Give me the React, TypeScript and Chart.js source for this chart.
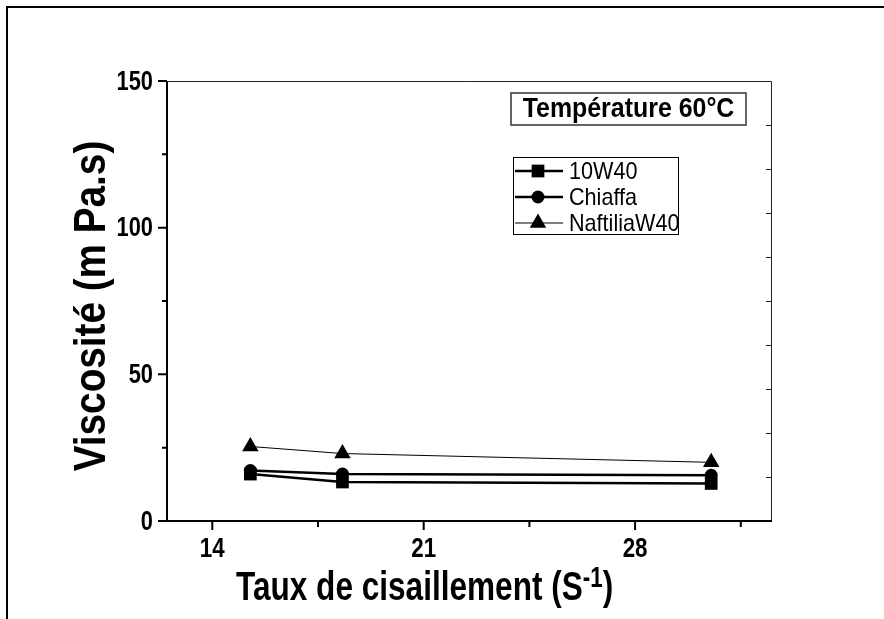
import React, { useEffect, useRef } from "react";
import { Chart, registerables } from "chart.js";

Chart.register(...registerables);

// ---- data ----
const shearRates = [15.26, 18.31, 30.52];
const visc10W40 = [16.0, 13.3, 12.8];
const viscChiaffa = [17.2, 16.0, 15.6];
const viscNaftilia = [25.4, 23.0, 20.0];
const seriesNames = ["10W40", "Chiaffa", "NaftiliaW40"];

const xMajorTicks = [14, 21, 28];
const xMinorTicks = [17.5, 24.5, 31.5];
const yMajorTicks = [0, 50, 100, 150];
const yMinorTicks = [25, 75, 125];
const yRightTicks = [15, 30, 45, 60, 75, 90, 105, 120, 135];

const xTitleMain = "Taux de cisaillement (S";
const xTitleSup = "-1";
const xTitleEnd = ")";
const yTitle = "Viscosité (m Pa.s)";
const boxTitle = "Température 60°C";

const FONT = '"Liberation Sans", Arial, "DejaVu Sans", sans-serif';

function setFont(ctx: CanvasRenderingContext2D, size: number, bold: boolean) {
  ctx.font = `${bold ? "bold " : ""}${size}px ${FONT}`;
}

function drawText(
  ctx: CanvasRenderingContext2D,
  s: string,
  x: number,
  y: number,
  size: number,
  bold: boolean,
  sx: number,
  align: CanvasTextAlign,
  baseline: CanvasTextBaseline
) {
  ctx.save();
  ctx.translate(x, y);
  ctx.scale(sx, 1);
  setFont(ctx, size, bold);
  ctx.textAlign = align;
  ctx.textBaseline = baseline;
  ctx.fillStyle = "#000";
  ctx.fillText(s, 0, 0);
  ctx.restore();
}

function textWidth(ctx: CanvasRenderingContext2D, s: string, size: number, bold: boolean, sx: number) {
  ctx.save();
  setFont(ctx, size, bold);
  const w = ctx.measureText(s).width * sx;
  ctx.restore();
  return w;
}

function drawMarker(ctx: CanvasRenderingContext2D, style: string, r: number, x: number, y: number) {
  ctx.save();
  ctx.fillStyle = "#000";
  ctx.beginPath();
  if (style === "rect") {
    const s = Math.SQRT1_2 * r;
    ctx.rect(x - s, y - s, 2 * s, 2 * s);
  } else if (style === "circle") {
    ctx.arc(x, y, r, 0, Math.PI * 2);
  } else {
    let rad = 0;
    const third = (2 * Math.PI) / 3;
    ctx.moveTo(x + Math.sin(rad) * r, y - Math.cos(rad) * r);
    rad += third;
    ctx.lineTo(x + Math.sin(rad) * r, y - Math.cos(rad) * r);
    rad += third;
    ctx.lineTo(x + Math.sin(rad) * r, y - Math.cos(rad) * r);
    ctx.closePath();
  }
  ctx.fill();
  ctx.restore();
}

const decorPlugin = {
  id: "decor",
  beforeDraw(chart: any) {
    const ctx: CanvasRenderingContext2D = chart.ctx;
    ctx.save();
    ctx.fillStyle = "#fff";
    ctx.fillRect(0, 0, chart.width, chart.height);
    // outer frame (left and top edges)
    ctx.strokeStyle = "#000";
    ctx.lineWidth = 2;
    ctx.beginPath();
    ctx.moveTo(7, chart.height + 5);
    ctx.lineTo(7, 7);
    ctx.lineTo(chart.width + 5, 7);
    ctx.stroke();
    ctx.restore();
  },
  afterDraw(chart: any) {
    const ctx: CanvasRenderingContext2D = chart.ctx;
    const xs = chart.scales.x;
    const ys = chart.scales.y;
    const { left, right, top, bottom } = chart.chartArea;
    ctx.save();
    ctx.lineCap = "butt";

    // top & right frame lines (thin)
    ctx.strokeStyle = "#222";
    ctx.lineWidth = 1;
    ctx.beginPath();
    ctx.moveTo(left, top + 0.5);
    ctx.lineTo(right + 0.5, top + 0.5);
    ctx.lineTo(right + 0.5, bottom);
    ctx.stroke();

    // right axis inward ticks
    ctx.beginPath();
    for (const v of yRightTicks) {
      const py = Math.round(ys.getPixelForValue(v)) + 0.5;
      ctx.moveTo(right + 0.5, py);
      ctx.lineTo(right - 5, py);
    }
    ctx.stroke();

    // left & bottom axes (thicker)
    ctx.strokeStyle = "#000";
    ctx.lineWidth = 2;
    ctx.beginPath();
    ctx.moveTo(left, top);
    ctx.lineTo(left, bottom);
    ctx.lineTo(right + 1, bottom);
    ctx.stroke();

    // y ticks
    ctx.beginPath();
    for (const v of yMajorTicks) {
      const py = ys.getPixelForValue(v);
      ctx.moveTo(left, py);
      ctx.lineTo(left - 9, py);
    }
    for (const v of yMinorTicks) {
      const py = ys.getPixelForValue(v);
      ctx.moveTo(left, py);
      ctx.lineTo(left - 5, py);
    }
    // x ticks
    for (const v of xMajorTicks) {
      const px = xs.getPixelForValue(v);
      ctx.moveTo(px, bottom);
      ctx.lineTo(px, bottom + 9);
    }
    for (const v of xMinorTicks) {
      const px = xs.getPixelForValue(v);
      ctx.moveTo(px, bottom);
      ctx.lineTo(px, bottom + 6);
    }
    ctx.stroke();

    // tick labels
    for (const v of yMajorTicks) {
      drawText(ctx, String(v), left - 14, ys.getPixelForValue(v) + 1, 28, true, 0.78, "right", "middle");
    }
    for (const v of xMajorTicks) {
      drawText(ctx, String(v), xs.getPixelForValue(v), bottom + 36, 28, true, 0.8, "center", "alphabetic");
    }

    // x axis title
    const xMainSize = 41;
    const xSx = 0.77;
    const wMain = textWidth(ctx, xTitleMain, xMainSize, true, xSx);
    const wSup = textWidth(ctx, xTitleSup, 29, true, xSx);
    let tx = 236;
    const tBase = 600;
    drawText(ctx, xTitleMain, tx, tBase, xMainSize, true, xSx, "left", "alphabetic");
    tx += wMain;
    drawText(ctx, xTitleSup, tx, tBase - 13, 29, true, xSx, "left", "alphabetic");
    tx += wSup;
    drawText(ctx, xTitleEnd, tx, tBase, xMainSize, true, xSx, "left", "alphabetic");

    // y axis title (rotated)
    ctx.save();
    ctx.translate(105, 306);
    ctx.rotate(-Math.PI / 2);
    drawText(ctx, yTitle, 0, 0, 45, true, 0.86, "center", "alphabetic");
    ctx.restore();

    // title box
    ctx.strokeStyle = "#333";
    ctx.lineWidth = 1.5;
    ctx.strokeRect(511, 93, 235, 32);
    drawText(ctx, boxTitle, 628.5, 117, 28, true, 0.89, "center", "alphabetic");

    // legend box
    ctx.strokeStyle = "#000";
    ctx.lineWidth = 1;
    ctx.strokeRect(513.5, 157.5, 165, 77);
    const rowsY = [171, 197, 223];
    chart.data.datasets.forEach((ds: any, i: number) => {
      const y = rowsY[i];
      ctx.strokeStyle = "#000";
      ctx.lineWidth = ds.borderWidth;
      ctx.beginPath();
      ctx.moveTo(515, y);
      ctx.lineTo(563, y);
      ctx.stroke();
      drawMarker(ctx, ds.pointStyle, ds.pointRadius, 538, y);
      drawText(ctx, ds.label, 569, y + 1, 24, false, 0.9, "left", "middle");
    });

    ctx.restore();
  },
};

function toPoints(ys: number[]) {
  return ys.map((y, i) => ({ x: shearRates[i], y }));
}

export default function App() {
  const ref = useRef<HTMLCanvasElement | null>(null);
  useEffect(() => {
    document.body.style.margin = "0";
    const canvas = ref.current;
    if (!canvas) return;
    const chart = new Chart(canvas, {
      type: "line",
      data: {
        datasets: [
          {
            label: seriesNames[0],
            data: toPoints(visc10W40),
            borderColor: "#000",
            backgroundColor: "#000",
            borderWidth: 2.5,
            pointStyle: "rect",
            pointRadius: 9,
            pointBorderWidth: 0,
            pointBackgroundColor: "#000",
          },
          {
            label: seriesNames[1],
            data: toPoints(viscChiaffa),
            borderColor: "#000",
            backgroundColor: "#000",
            borderWidth: 2.5,
            pointStyle: "circle",
            pointRadius: 6.5,
            pointBorderWidth: 0,
            pointBackgroundColor: "#000",
          },
          {
            label: seriesNames[2],
            data: toPoints(viscNaftilia),
            borderColor: "#000",
            backgroundColor: "#000",
            borderWidth: 1,
            pointStyle: "triangle",
            pointRadius: 9.5,
            pointBorderWidth: 0,
            pointBackgroundColor: "#000",
          },
        ],
      },
      options: {
        animation: false,
        responsive: false,
        devicePixelRatio: 1,
        layout: { padding: { left: 167, top: 81, right: 113, bottom: 98 } },
        plugins: { legend: { display: false }, tooltip: { enabled: false }, title: { display: false } },
        scales: {
          x: { type: "linear", min: 12.5, max: 32.5, display: false },
          y: { type: "linear", min: 0, max: 150, display: false },
        },
        elements: { line: { tension: 0, fill: false } },
      },
      plugins: [decorPlugin],
    } as any);
    return () => chart.destroy();
  }, []);
  return (
    <canvas
      ref={ref}
      width={884}
      height={619}
      style={{ display: "block", width: 884, height: 619 }}
    />
  );
}
